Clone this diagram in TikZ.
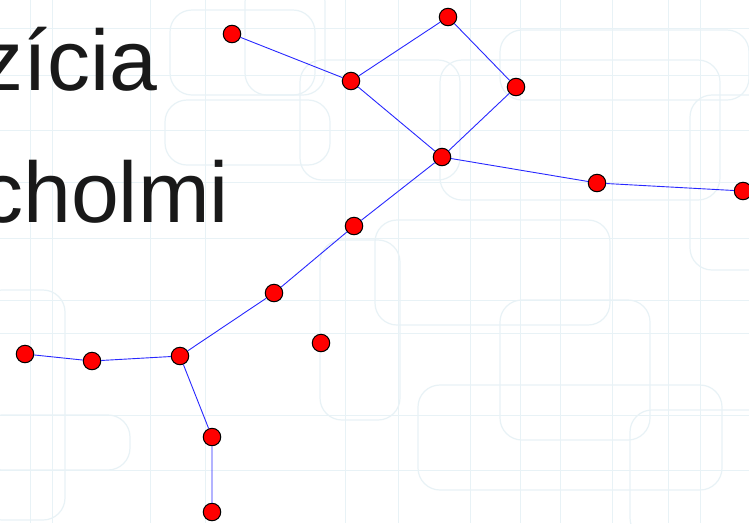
\documentclass[tikz,border=0pt]{standalone}
\usepackage{fontspec}
\setmainfont{Liberation Sans}
\definecolor{vtx}{RGB}{255,0,0}
\definecolor{edg}{RGB}{40,40,255}
\definecolor{bgline}{RGB}{232,242,246}
\definecolor{txt}{RGB}{25,25,25}
\begin{document}
\begin{tikzpicture}[x=1pt, y=-1pt,
  vertex/.style={circle, draw=black, line width=1pt, fill=vtx, inner sep=0pt, minimum size=17.5pt},
  edge/.style={edg, line width=0.9pt},
  bg/.style={bgline, line width=1.2pt, rounded corners=22pt},
  word/.style={font=\fontsize{86}{90}\selectfont, text=txt, inner sep=0pt, anchor=base east}]
\useasboundingbox (0,0) rectangle (749,523);
\fill[white] (0,0) rectangle (749,523);
% faint slide background
\foreach \x in {30,52,150,205,345,398,470,520,560,612,668,700}
  \draw[bgline, line width=0.8pt] (\x,0) -- (\x,523);
\foreach \y in {28,75,130,182,238,300,333,415,470}
  \draw[bgline, line width=0.8pt] (0,\y) -- (749,\y);
\draw[bg] (245,-20) rectangle (325,95);
\draw[bg] (170,10) rectangle (315,95);
\draw[bg] (165,100) rectangle (330,165);
\draw[bg] (500,30) rectangle (749,100);
\draw[bg] (300,60) rectangle (460,180);
\draw[bg] (440,60) rectangle (720,200);
\draw[bg] (-20,290) rectangle (65,520);
\draw[bg] (-20,415) rectangle (130,470);
\draw[bg] (375,220) rectangle (610,325);
\draw[bg] (500,300) rectangle (650,440);
\draw[bg] (418,385) rectangle (722,490);
\draw[bg] (320,240) rectangle (400,420);
\draw[bg] (630,410) rectangle (770,540);
\draw[bg] (690,95) rectangle (770,270);
% text fragments
\node[word] (w1) at (158,90) {zícia};
\node[word] (w2) at (229,222) {cholmi};
% vertices
\node[vertex] (a) at (232,34) {};
\node[vertex] (b) at (351,81) {};
\node[vertex] (c) at (448,17) {};
\node[vertex] (d) at (516,87) {};
\node[vertex] (e) at (442,157) {};
\node[vertex] (f) at (597,183) {};
\node[vertex] (g) at (743,191) {};
\node[vertex] (h) at (354,226) {};
\node[vertex] (i) at (274,293) {};
\node[vertex] (j) at (180,356) {};
\node[vertex] (k) at (92,361) {};
\node[vertex] (l) at (25,354) {};
\node[vertex] (m) at (321,343) {};
\node[vertex] (n) at (212,437) {};
\node[vertex] (o) at (212,512) {};
% edges
\draw[edge] (a) -- (b) (b) -- (c) (c) -- (d) (d) -- (e) (b) -- (e);
\draw[edge] (e) -- (f) (f) -- (g) (e) -- (h) (h) -- (i) (i) -- (j);
\draw[edge] (j) -- (k) (k) -- (l) (j) -- (n) (n) -- (o);
\end{tikzpicture}
\end{document}
